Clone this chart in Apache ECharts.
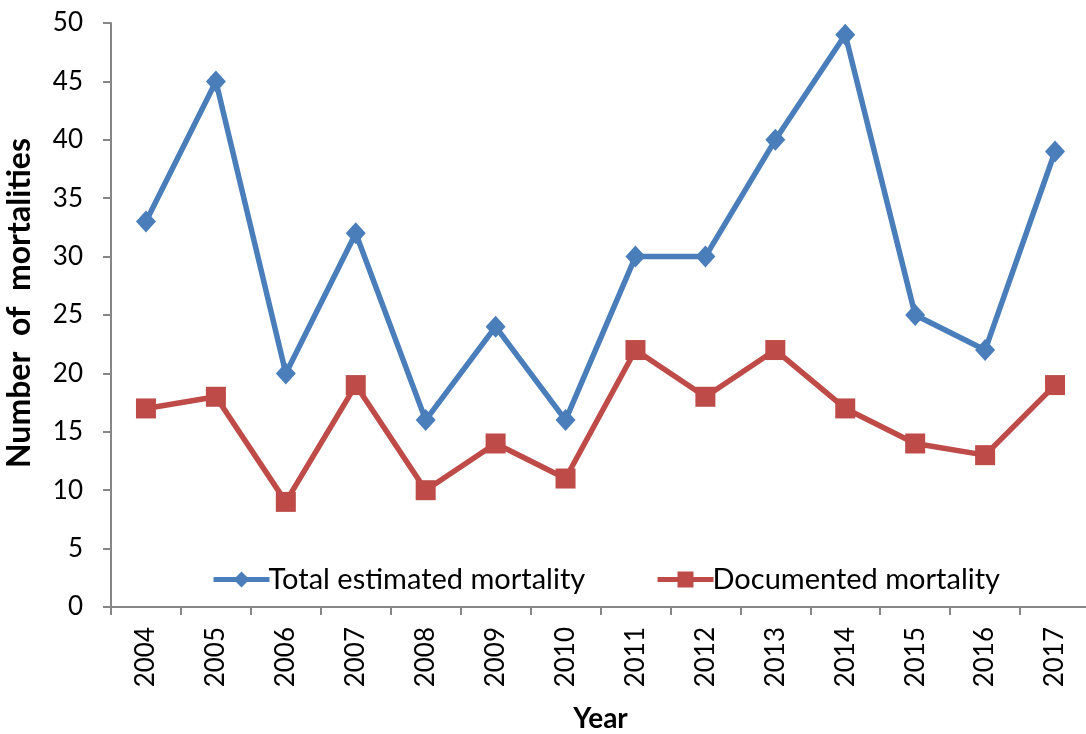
<!DOCTYPE html>
<html><head><meta charset="utf-8">
<script src="https://cdn.jsdelivr.net/npm/echarts@6/dist/echarts.min.js"></script>
<style>html,body{margin:0;padding:0;background:#fff}#c{width:1086px;height:734px}</style>
</head><body><div id="c"></div>
<script>
const years = ['2004','2005','2006','2007','2008','2009','2010','2011','2012','2013','2014','2015','2016','2017'];
const totalEstimated = [33,45,20,32,16,24,16,30,30,40,49,25,22,39];
const documented = [17,18,9,19,10,14,11,22,18,22,17,14,13,19];
const yTicks = [0,5,10,15,20,25,30,35,40,45,50];

const font = "Lato, 'Open Sans', sans-serif";
const chart = echarts.init(document.getElementById('c'), null, {renderer:'canvas'});
chart.setOption({
  animation:false,
  backgroundColor:'#fff',
  grid:{left:111, right:-4, top:23, bottom:127, containLabel:false, outerBoundsMode:'none'},
  legend:[
    {data:['Total estimated mortality'], left:206, top:560, itemWidth:56, itemHeight:20,
     lineStyle:{width:5}, itemGap:0,
     textStyle:{fontFamily:font, fontSize:29, color:'#000', padding:[0,0,0,-6]}},
    {data:['Documented mortality'], left:650, top:560, itemWidth:56, itemHeight:20,
     lineStyle:{width:5}, itemGap:0,
     textStyle:{fontFamily:font, fontSize:29, color:'#000', padding:[0,0,0,-6]}}
  ],
  xAxis:{
    type:'category', data:years, boundaryGap:true,
    name:'Year', nameLocation:'middle', nameGap:98,
    nameTextStyle:{fontFamily:font, fontSize:28, fontWeight:'bold', color:'#000'},
    axisLine:{lineStyle:{color:'#868686', width:2}},
    axisTick:{show:true, length:8, alignWithLabel:false, lineStyle:{color:'#868686', width:2}},
    axisLabel:{rotate:90, fontFamily:font, fontSize:26, color:'#000', margin:20}
  },
  yAxis:{
    type:'value', min:yTicks[0], max:yTicks[yTicks.length-1], interval:5,
    name:'Number  of  mortalities', nameLocation:'middle', nameGap:75, nameRotate:90,
    nameTextStyle:{fontFamily:font, fontSize:32, fontWeight:'bold', color:'#000', padding:[0,0,0,24]},
    axisLine:{show:true, lineStyle:{color:'#868686', width:2}},
    axisTick:{show:true, inside:false, length:8, lineStyle:{color:'#868686', width:2}},
    splitLine:{show:false},
    axisLabel:{fontFamily:font, fontSize:26, color:'#000', margin:28}
  },
  series:[
    {name:'Total estimated mortality', type:'line', data:totalEstimated,
     symbol:'diamond', symbolSize:[20,22], lineStyle:{color:'#4A7EBB', width:5.5},
     itemStyle:{color:'#4A7EBB'}},
    {name:'Documented mortality', type:'line', data:documented,
     symbol:'rect', symbolSize:20, lineStyle:{color:'#BE4B48', width:5.5},
     itemStyle:{color:'#BE4B48'}}
  ]
});
</script></body></html>
